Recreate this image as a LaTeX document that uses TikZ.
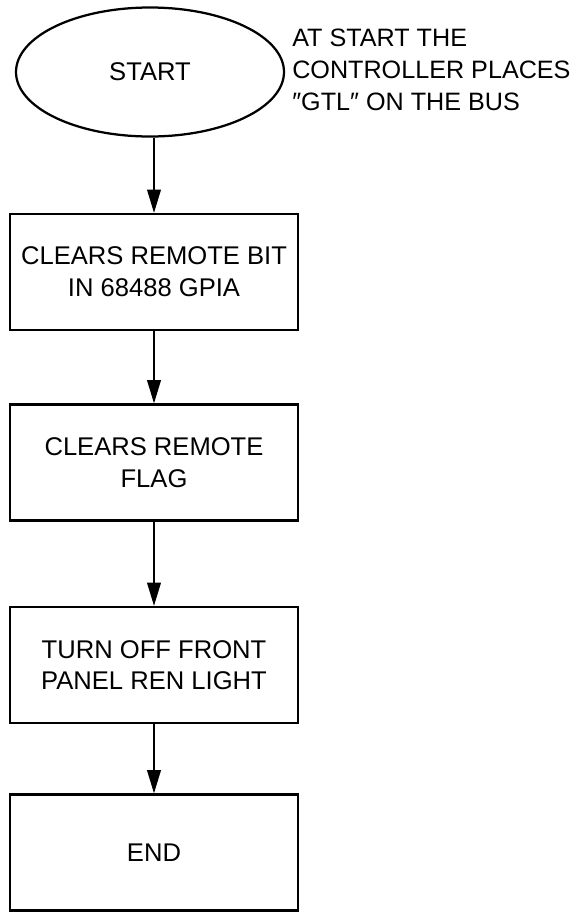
\documentclass[tikz,border=0pt]{standalone}
\usepackage{fontspec}
\setmainfont{Liberation Sans}
\usepackage{tikz}
\usetikzlibrary{shapes.geometric, arrows.meta}

\begin{document}
\begin{tikzpicture}[
          stepbox/.style={rectangle, draw=black, line width=1.6pt, minimum width=7.2cm, minimum height=2.9cm, align=center, inner sep=0pt, font=\fontsize{18.2}{22.5}\selectfont},
          startoval/.style={ellipse, draw=black, line width=1.6pt, minimum width=6.7cm, minimum height=3.225cm, inner sep=0pt, font=\fontsize{18.2}{22.5}\selectfont},
          notetext/.style={align=left, inner sep=0pt, font=\fontsize{17.9}{22.7}\selectfont},
          flowarrow/.style={line width=1.3pt, -{Triangle[length=0.58cm, width=0.34cm]}}
        ]
          \useasboundingbox (0,0) rectangle (14.45,-22.8);

          % Start oval and its note
          \node[startoval] (start) at (3.75, -1.8) {START};
          \node[notetext, anchor=west] (startnote) at (7.3, -1.75) {AT START THE\\CONTROLLER PLACES\\″GTL″ ON THE BUS};

          % Steps
          \node[stepbox] (clearbit) at (3.85, -6.8) {CLEARS REMOTE BIT\\IN 68488 GPIA};
          \node[stepbox] (clearflag) at (3.85, -11.5625) {CLEARS REMOTE\\FLAG};
          \node[stepbox] (renoff) at (3.85, -16.625) {TURN OFF FRONT\\PANEL REN LIGHT};
          \node[stepbox] (finish) at (3.85, -21.3125) {END};

          % Connectors
          \draw[flowarrow] (start.south -| clearbit.north) -- (clearbit.north);
          \draw[flowarrow] (clearbit) -- (clearflag);
          \draw[flowarrow] (clearflag) -- (renoff);
          \draw[flowarrow] (renoff) -- (finish);
        \end{tikzpicture}
\end{document}
